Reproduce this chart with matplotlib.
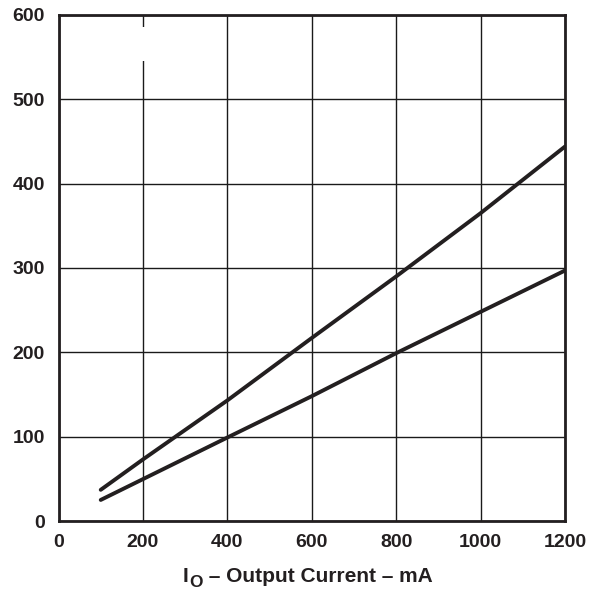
import matplotlib
matplotlib.use("Agg")
import matplotlib.pyplot as plt
from matplotlib.patches import Rectangle

plt.rcParams['font.family'] = ['Liberation Sans', 'DejaVu Sans']

# data
current_upper = [100, 200, 400, 600, 800, 1000, 1200]
value_upper = [37, 73, 143, 217, 290, 365, 444]
current_lower = [100, 400, 600, 800, 1000, 1200]
value_lower = [25, 99, 148, 199, 248, 297]
xticks = [0, 200, 400, 600, 800, 1000, 1200]
yticks = [0, 100, 200, 300, 400, 500, 600]

W, H = 590, 592
fig = plt.figure(figsize=(W / 100, H / 100), dpi=100)
ax = fig.add_axes([0.0992, 0.1199, 0.8584, 0.8548])
ax.set_xlim(0, 1200)
ax.set_ylim(0, 600)
ax.set_xticks(xticks)
ax.set_yticks(yticks)
ax.grid(True, color='#1a1a1a', linewidth=1.0)
ax.set_axisbelow(True)
ax.tick_params(axis='y', length=0, pad=10, labelsize=14)
ax.tick_params(axis='x', length=0, pad=9, labelsize=14)
for lab in ax.get_xticklabels() + ax.get_yticklabels():
    lab.set_fontweight('bold')
    lab.set_color('#231f20')
for s in ax.spines.values():
    s.set_linewidth(2.0)
    s.set_color('#231f20')

ax.add_patch(Rectangle((190, 545), 20, 41, facecolor='white', edgecolor='none', zorder=1.5))

ax.plot(current_upper, value_upper, color='#231f20', linewidth=2.8, zorder=3,
        solid_capstyle='round', solid_joinstyle='round')
ax.plot(current_lower, value_lower, color='#231f20', linewidth=2.8, zorder=3,
        solid_capstyle='round', solid_joinstyle='round')

# x-axis label built from pieces: I, subscript O, rest
fig.canvas.draw()
renderer = fig.canvas.get_renderer()
base_y = (H - 582) / H
t1 = fig.text(183 / W, base_y, 'I', fontsize=15, fontweight='bold', va='baseline', color='#231f20')
x1 = t1.get_window_extent(renderer).x1
t2 = fig.text(x1 / W + 0.001, base_y - 5 / H, 'O', fontsize=12.5, fontweight='bold', va='baseline', color='#231f20')
x2 = t2.get_window_extent(renderer).x1
fig.text(x2 / W, base_y, ' – Output Current – mA', fontsize=15, fontweight='bold', va='baseline', color='#231f20')

fig.savefig('out.png', dpi=100)
